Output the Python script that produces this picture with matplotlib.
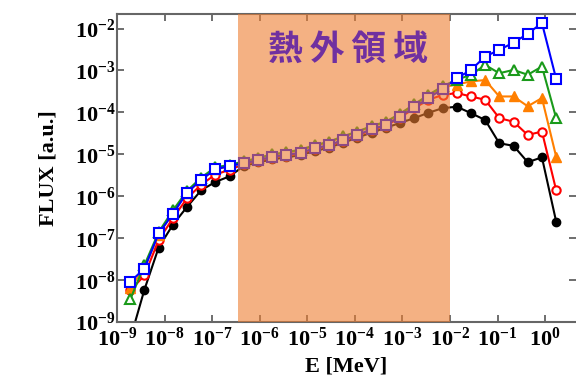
import math
import matplotlib.pyplot as plt
from matplotlib.ticker import FuncFormatter, NullLocator

plt.rcParams['font.family'] = ['Liberation Serif', 'DejaVu Serif']
plt.rcParams['font.weight'] = 'bold'
plt.rcParams['mathtext.fontset'] = 'custom'
plt.rcParams['mathtext.rm'] = 'Liberation Serif:bold'
plt.rcParams['mathtext.bf'] = 'Liberation Serif:bold'
plt.rcParams['mathtext.it'] = 'Liberation Serif:bold:italic'
plt.rcParams['mathtext.default'] = 'bf'

# energy grid [MeV]
energy = [1.91e-9, 3.79e-9, 7.53e-9, 1.50e-8, 2.98e-8, 5.92e-8, 1.17e-7, 2.34e-7,
          4.65e-7, 9.24e-7, 1.84e-6, 3.65e-6, 7.26e-6, 1.44e-5, 2.87e-5, 5.70e-5,
          1.13e-4, 2.25e-4, 4.48e-4, 8.91e-4, 1.77e-3, 3.52e-3, 7.00e-3,
          1.39e-2, 2.77e-2, 5.50e-2, 0.109, 0.217, 0.432, 0.859, 1.71]

flux_black = [4.0e-10, 6.0e-9, 6.0e-8, 2.1e-7, 5.6e-7, 1.4e-6, 2.2e-6, 3.0e-6,
              5.3e-6, 6.4e-6, 7.6e-6, 8.5e-6, 9.6e-6, 1.2e-5, 1.45e-5, 1.9e-5,
              2.5e-5, 3.3e-5, 4.3e-5, 5.6e-5, 7.3e-5, 9.8e-5, 1.26e-4,
              1.37e-4, 9.6e-5, 6.6e-5, 1.84e-5, 1.6e-5, 6.5e-6, 8.5e-6, 2.5e-7]
flux_red = [5.7e-9, 1.3e-8, 9.0e-8, 3.0e-7, 9.0e-7, 1.9e-6, 3.3e-6, 4.3e-6,
            5.8e-6, 7.0e-6, 8.4e-6, 9.3e-6, 1.05e-5, 1.35e-5, 1.6e-5, 2.1e-5,
            2.8e-5, 3.8e-5, 4.8e-5, 7.5e-5, 1.25e-4, 2.0e-4, 2.6e-4,
            2.9e-4, 2.4e-4, 2.0e-4, 7.3e-5, 6.0e-5, 2.9e-5, 3.5e-5, 1.4e-6]
flux_orange = [6.5e-9, 2.0e-8, 1.2e-7, 4.2e-7, 1.2e-6, 2.5e-6, 4.4e-6, 5.2e-6,
               6.6e-6, 8.0e-6, 9.8e-6, 1.1e-5, 1.25e-5, 1.6e-5, 1.95e-5, 2.6e-5,
               3.4e-5, 4.6e-5, 5.8e-5, 9.0e-5, 1.5e-4, 2.5e-4, 4.0e-4,
               4.6e-4, 5.5e-4, 5.9e-4, 2.4e-4, 2.4e-4, 1.4e-4, 2.2e-4, 8.8e-6]
flux_green = [3.5e-9, 2.3e-8, 1.4e-7, 4.6e-7, 1.35e-6, 2.8e-6, 4.9e-6, 5.6e-6,
              6.8e-6, 8.2e-6, 1.0e-5, 1.12e-5, 1.3e-5, 1.65e-5, 2.0e-5, 2.7e-5,
              3.5e-5, 4.7e-5, 6.0e-5, 9.3e-5, 1.55e-4, 2.6e-4, 4.2e-4,
              6.0e-4, 7.9e-4, 1.35e-3, 8.6e-4, 1.03e-3, 7.9e-4, 1.24e-3, 7.3e-5]
flux_blue = [9.2e-9, 1.9e-8, 1.3e-7, 3.8e-7, 1.22e-6, 2.5e-6, 4.4e-6, 5.3e-6,
             6.1e-6, 7.3e-6, 8.8e-6, 9.7e-6, 1.1e-5, 1.4e-5, 1.67e-5, 2.2e-5,
             2.9e-5, 4.0e-5, 5.0e-5, 7.9e-5, 1.33e-4, 2.2e-4, 3.6e-4,
             6.5e-4, 1.03e-3, 2.15e-3, 3.1e-3, 4.6e-3, 7.5e-3, 1.35e-2, 6.3e-4]

epithermal_lo = 3.5e-7
epithermal_hi = 1.0e-2
region_label = '熱\u2009外\u2009領\u2009域'

fig = plt.figure(figsize=(5.76, 3.84), dpi=100)
ax = fig.add_axes([0.203, 0.161, 0.797, 0.803])

ax.plot(energy, flux_black, '-o', color='black', lw=1.5, ms=6, zorder=2)
ax.plot(energy, flux_red, '-o', color='red', mfc='white', mew=1.5, lw=1.5, ms=6, zorder=3)
ax.plot(energy, flux_orange, '-^', color='#ff7f00', lw=1.5, ms=7, zorder=4)
ax.plot(energy, flux_green, '-^', color='#1a9a1a', mfc='white', mew=1.5, lw=1.5, ms=7, zorder=5)
ax.plot(energy, flux_blue, '-s', color='blue', mfc='white', mew=1.5, lw=1.5, ms=7, zorder=6)

# shaded epithermal band drawn on top of the curves
ax.axvspan(epithermal_lo, epithermal_hi, color='#ed7d31', alpha=0.6, lw=0, zorder=10)
ax.text(10 ** -4.15, 0.886, region_label, transform=ax.get_xaxis_transform(),
        ha='center', va='center', fontsize=25, fontweight='bold', color='#7030a0',
        family=['Noto Sans CJK JP', 'DejaVu Sans'], zorder=11)

ax.set_xscale('log')
ax.set_yscale('log')
ax.set_xlim(1e-9, 10 ** 0.65)
ax.set_ylim(1e-9, 10 ** -1.65)

ax.set_xticks([10.0 ** k for k in range(-9, 1)])
ax.set_yticks([10.0 ** k for k in range(-9, -1)])
ax.xaxis.set_minor_locator(NullLocator())
ax.yaxis.set_minor_locator(NullLocator())
fmt = FuncFormatter(lambda v, p: r'$10^{%d}$' % round(math.log10(v)))
ax.xaxis.set_major_formatter(fmt)
ax.yaxis.set_major_formatter(fmt)

ax.tick_params(direction='in', length=5, width=1.2, colors='#555555',
               labelcolor='black', labelsize=16, top=True, right=True)
ax.tick_params(axis='x', pad=4)
ax.tick_params(axis='y', pad=1)
for s in ax.spines.values():
    s.set_color('#666666')
    s.set_linewidth(1.5)
ax.spines['right'].set_visible(False)

ax.set_xlabel('E [MeV]', fontsize=16, fontweight='bold', labelpad=4)
ax.set_ylabel('FLUX [a.u.]', fontsize=16, fontweight='bold', labelpad=12)

fig.savefig('out.png', dpi=100)
